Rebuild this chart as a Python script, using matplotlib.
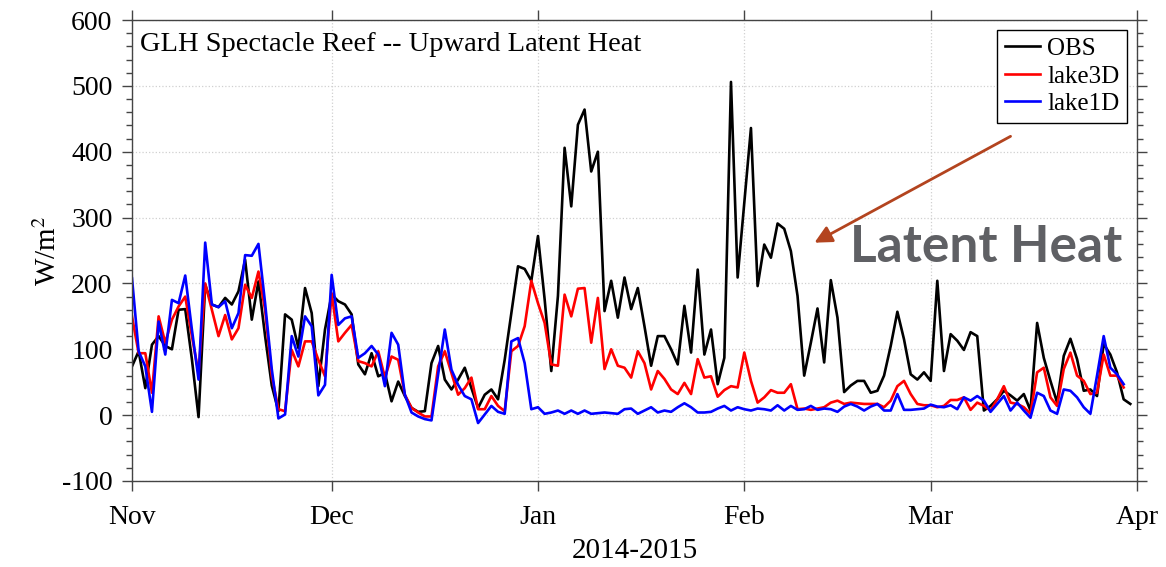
import numpy as np
import pandas as pd
import matplotlib
matplotlib.use('Agg')
import matplotlib.pyplot as plt
import matplotlib.dates as mdates
from matplotlib.ticker import MultipleLocator

# daily upward latent heat (W/m2), Nov 1 2014 onward
obs = [74, 97, 41, 107, 120, 105, 100, 160, 161, 85,
       -3, 198, 168, 164, 178, 168, 188, 236, 145, 203,
       120, 45, 6, 153, 145, 102, 193, 155, 44, 130,
       183, 173, 168, 153, 77, 62, 94, 59, 64, 21,
       51, 29, 11, 5, 6, 79, 105, 54, 39, 54,
       72, 41, 11, 31, 39, 24, 84, 155, 226, 222,
       204, 272, 176, 67, 181, 406, 317, 441, 464, 370,
       400, 158, 204, 148, 209, 161, 193, 135, 75, 120,
       120, 100, 77, 166, 95, 221, 92, 130, 47, 87,
       506, 209, 322, 436, 196, 259, 239, 291, 283, 249,
       181, 60, 110, 162, 80, 205, 148, 35, 45, 52,
       52, 34, 37, 60, 105, 157, 115, 62, 54, 65,
       52, 204, 67, 123, 113, 99, 126, 120, 7, 14,
       24, 37, 30, 22, 32, 7, 140, 87, 52, 19,
       90, 116, 85, 37, 39, 29, 108, 92, 65, 24,
       17]

lake3d = [150, 94, 94, 34, 150, 110, 145, 165, 180, 120,
          64, 200, 160, 120, 152, 115, 132, 198, 178, 218,
          160, 60, 9, 6, 99, 74, 112, 112, 84, 59,
          185, 112, 125, 137, 82, 79, 74, 97, 57, 89,
          84, 31, 11, 4, -2, -2, 74, 97, 64, 31,
          41, 57, 9, 9, 29, 14, 6, 97, 105, 135,
          204, 170, 140, 77, 75, 183, 150, 192, 193, 110,
          178, 70, 100, 75, 72, 57, 97, 79, 39, 67,
          55, 39, 32, 49, 32, 85, 57, 59, 28, 38,
          44, 42, 95, 52, 19, 27, 38, 34, 34, 47,
          9, 10, 8, 10, 12, 19, 22, 17, 19, 18,
          17, 17, 17, 12, 22, 44, 52, 32, 17, 15,
          15, 12, 14, 23, 23, 27, 8, 19, 14, 7,
          24, 44, 19, 17, 12, 2, 65, 72, 27, 14,
          70, 95, 60, 52, 32, 34, 92, 60, 60, 42]

lake1d = [208, 97, 74, 5, 142, 92, 175, 170, 212, 130,
          54, 262, 168, 164, 173, 132, 155, 243, 242, 260,
          170, 70, -5, 1, 120, 89, 150, 135, 30, 46,
          213, 137, 147, 150, 87, 94, 105, 92, 44, 125,
          107, 31, 4, -2, -6, -8, 62, 130, 69, 46,
          29, 24, -12, 1, 14, 5, 2, 112, 117, 79,
          9, 12, 2, 4, 7, 2, 7, 2, 7, 2,
          3, 4, 3, 2, 9, 10, 2, 7, 12, 4,
          7, 5, 12, 18, 12, 4, 4, 5, 10, 14,
          7, 12, 9, 7, 10, 9, 7, 15, 7, 14,
          8, 9, 14, 8, 10, 9, 5, 13, 17, 13,
          7, 13, 17, 7, 7, 32, 8, 8, 9, 10,
          16, 13, 12, 15, 9, 27, 22, 29, 22, 5,
          17, 29, 7, 19, 7, -4, 34, 29, 7, 2,
          39, 37, 27, 12, 2, 60, 120, 72, 62, 47]

series_names = ['OBS', 'lake3D', 'lake1D']

plt.rcParams['font.family'] = 'Liberation Serif'
plt.rcParams['mathtext.fontset'] = 'stix'
plt.rcParams['axes.unicode_minus'] = False

fig = plt.figure(figsize=(11.66, 5.67), dpi=100)
ax = fig.add_axes([0.1132, 0.1517, 0.8619, 0.8130])

t_obs = pd.date_range('2014-11-01', periods=len(obs), freq='D')
t_mod = pd.date_range('2014-11-01', periods=len(lake3d), freq='D')

ax.plot(t_obs, obs, color='black', lw=1.9, label=series_names[0])
ax.plot(t_mod, lake3d, color='red', lw=1.9, label=series_names[1])
ax.plot(t_mod, lake1d, color='blue', lw=1.9, label=series_names[2])

ax.set_xlim(pd.Timestamp('2014-11-01'), pd.Timestamp('2015-04-01'))
ax.set_ylim(-100, 600)
ax.xaxis.set_major_locator(mdates.MonthLocator())
ax.xaxis.set_major_formatter(mdates.DateFormatter('%b'))
ax.yaxis.set_major_locator(MultipleLocator(100))
ax.yaxis.set_minor_locator(MultipleLocator(20))

ax.tick_params(which='both', direction='out', top=True, right=True,
               labelsize=20, color='#444444')
ax.tick_params(which='major', length=7, width=1)
ax.tick_params(which='minor', length=4, width=1)
ax.tick_params(axis='x', pad=10)
ax.tick_params(axis='y', pad=7)
for s in ax.spines.values():
    s.set_color('#444444')
    s.set_linewidth(1)

ax.grid(True, which='major', linestyle=':', color='#d0d0d0', linewidth=0.9)
ax.set_axisbelow(True)

ax.set_xlabel('2014-2015', fontsize=21, labelpad=6)
ax.set_ylabel('W/m$^2$', fontsize=21, labelpad=0)

ax.text(0.008, 0.975, 'GLH Spectacle Reef -- Upward Latent Heat',
        transform=ax.transAxes, fontsize=20.5, ha='left', va='top')

leg = ax.legend(loc='upper right', fontsize=18, fancybox=False,
                edgecolor='black', framealpha=1, handlelength=1.4,
                handletextpad=0.3, borderaxespad=0.4, borderpad=0.3,
                labelspacing=0.2)
leg.get_frame().set_linewidth(1)

# annotation arrow and label
ax.annotate('', xy=(812, 323), xycoords='figure pixels',
            xytext=(1013, 432), textcoords='figure pixels',
            arrowprops=dict(arrowstyle='-|>', color='#b3441f', lw=2,
                            mutation_scale=26))
fig.text(850, 305, 'Latent Heat', transform=None, fontsize=37,
         fontweight='bold', family='Lato', color='#5f6064',
         ha='left', va='baseline')

fig.savefig('out.png', dpi=100)
